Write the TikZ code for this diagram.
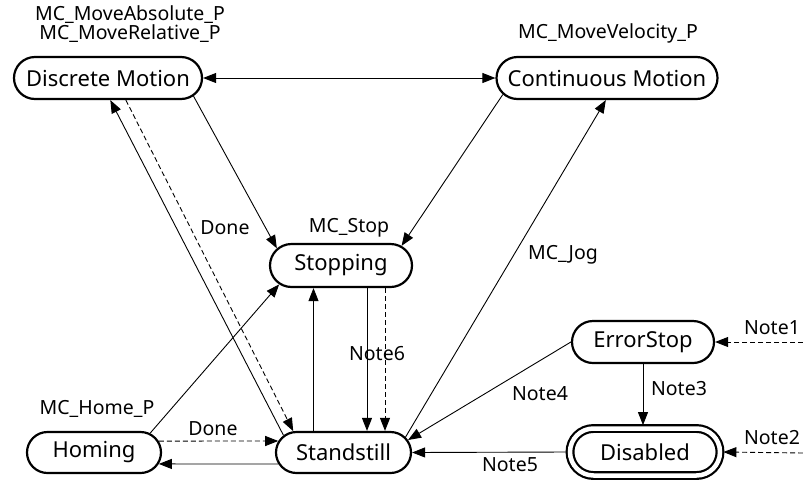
\documentclass[tikz,border=0pt]{standalone}
\usepackage{fontspec}
\setmainfont{Noto Sans}
\usetikzlibrary{arrows.meta,shapes.misc}

\begin{document}
\begin{tikzpicture}[x=1pt,y=-1pt,>={Triangle[length=13pt,width=10pt]},
  state/.style={draw,rounded rectangle,line width=2.2pt,minimum height=42pt,
    inner xsep=1pt,font=\fontsize{22}{26}\selectfont},
  lbl/.style={inner sep=0pt,font=\fontsize{19.5}{18.5}\selectfont},
  tr/.style={->,line width=.9pt},
  dtr/.style={tr,dash pattern=on 5pt off 3pt}]
  \useasboundingbox (0,0) rectangle (803,480);

  \node[state,minimum width=190pt] (dm) at (108,78) {Discrete Motion};
  \node[state,minimum width=223pt] (cm) at (607,78) {Continuous Motion};
  \node[state,minimum width=144pt,minimum height=43pt] (stop) at (341,265.5) {Stopping};
  \node[state,minimum width=136pt,minimum height=41pt] (hom) at (94,452.5) {Homing};
  \node[state,minimum width=137pt,minimum height=41pt] (still) at (343.5,452.5) {Standstill};
  \node[state,minimum width=144pt] (err) at (643,342) {ErrorStop};
  \node[state,double,double distance=4.5pt,minimum width=152pt,minimum height=47pt,
    outer sep=3.4pt] (dis) at (645,452) {Disabled};
  \coordinate (n1) at (803,342);
  \coordinate (n2) at (803,453);

  \node[lbl,align=center] (dmlbl) at (130,24) {MC\_MoveAbsolute\_P\\MC\_MoveRelative\_P};
  \node[lbl] (cmlbl) at (608,33) {MC\_MoveVelocity\_P};
  \node[lbl] (done1) at (225,228) {Done};
  \node[lbl] (stoplbl) at (349,228) {MC\_Stop};
  \node[lbl] (jog) at (563,255) {MC\_Jog};
  \node[lbl] (note6) at (377,354) {Note6};
  \node[lbl] (note4) at (540,394) {Note4};
  \node[lbl] (note3) at (679,389) {Note3};
  \node[lbl] (homlbl) at (97,409) {MC\_Home\_P};
  \node[lbl] (done2) at (213,429) {Done};
  \node[lbl] (note5) at (510,465) {Note5};
  \node[lbl] (note1) at (772,328) {Note1};
  \node[lbl] (note2) at (772,438) {Note2};

  \draw[tr,<->] (dm.east) -- (cm.west);
  \draw[tr] (dm.-12) -- (stop.165);
  \draw[tr] (cm.189) -- (stop.18);
  \draw[tr] (still.164) -- (dm.-84);
  \draw[dtr] (dm.-51) -- (still.157);
  \draw[tr] (hom.19) -- (stop.197);
  \draw[dtr] (hom.10) -- (still.170);
  \draw[tr] (still.190) -- (hom.-10);
  \draw[tr] ([xshift=-30pt]still.north) -- ([xshift=-30pt]still.north |- stop.south);
  \draw[tr] ([xshift=26pt]stop.south) -- ([xshift=26pt]stop.south |- still.north);
  \draw[dtr] ([xshift=44pt]stop.south) -- ([xshift=44pt]stop.south |- still.north);
  \draw[tr] (still.14) -- (cm.-93);
  \draw[tr] (err.west) -- (still.11);
  \draw[tr] (err.south) -- (err.south |- dis.north);
  \draw[tr] (dis.west) -- (still.east);
  \draw[dtr] (n1) -- (err.east);
  \draw[dtr] (n2) -- (dis.east);
\end{tikzpicture}
\end{document}
